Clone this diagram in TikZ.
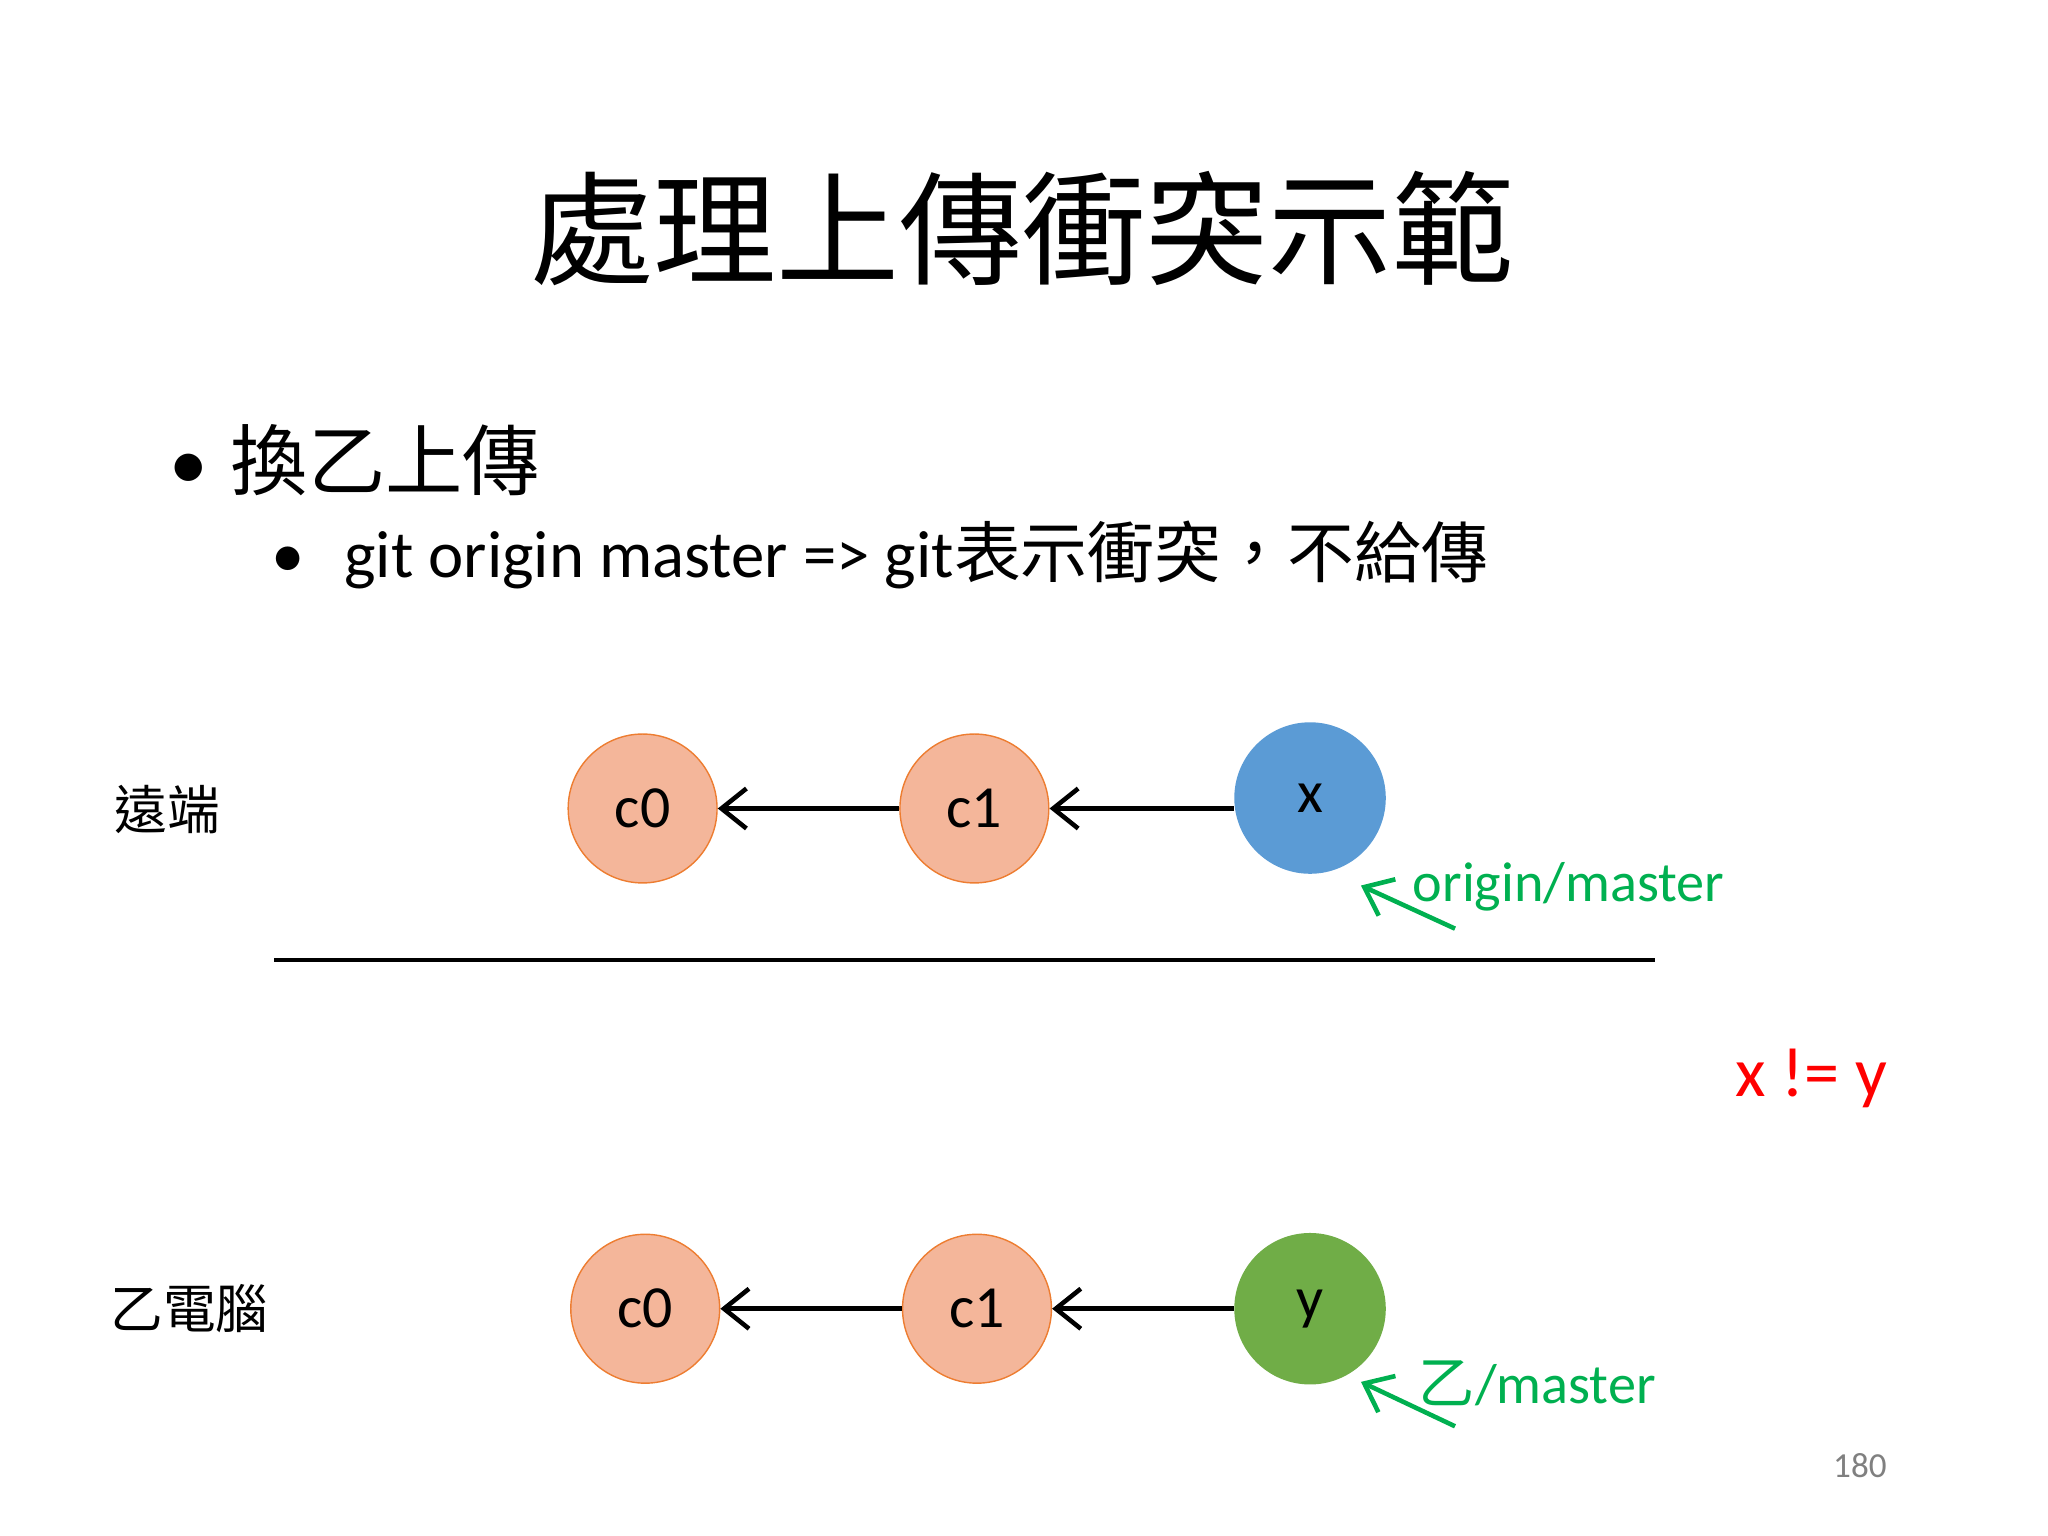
\documentclass[tikz,border=0pt]{standalone}
\usepackage{fontspec}
\setmainfont{Carlito}
\newfontfamily\cjk{Noto Sans CJK TC}
\usetikzlibrary{arrows.meta}
\definecolor{nodeorange}{HTML}{F4B69A}
\definecolor{nodeedge}{HTML}{ED7D31}
\definecolor{nodeblue}{HTML}{5B9BD5}
\definecolor{nodegreen}{HTML}{70AD47}
\definecolor{labgreen}{HTML}{00B050}
\tikzset{
  commit/.style={circle, draw=nodeedge, fill=nodeorange, minimum size=114*0.01306cm, inner sep=0pt, font=\fontsize{17}{17}\selectfont},
  head/.style={circle, minimum size=116*0.01306cm, inner sep=0pt, font=\fontsize{17}{17}\selectfont},
  parent/.style={-{Straight Barb[length=2.5mm,width=4mm]}, line width=1.3pt},
  ref/.style={-{Straight Barb[length=2.5mm,width=4mm]}, line width=1.3pt, labgreen},
}
\begin{document}
\begin{tikzpicture}[x=0.01306cm, y=-0.01306cm]
	\useasboundingbox (0,0) rectangle (1568,1176);
	\node (title) at (783,175) {\cjk\fontsize{35}{35}\selectfont 處理上傳衝突示範};
	\node[anchor=west] (item) at (120,352) {\fontsize{22}{22}\selectfont •\hspace{0.3em}{\cjk 換乙上傳}};
	\node[anchor=west] (sub) at (198,425) {\fontsize{19}{19}\selectfont •\hspace{0.6em}git origin master => git{\cjk 表示衝突，不給傳}};
	% remote
	\node (remote) at (128,620) {\cjk\fontsize{15}{15}\selectfont 遠端};
	\node[commit] (rc0) at (492,619) {c0};
	\node[commit] (rc1) at (746,619) {c1};
	\node[head, fill=nodeblue] (rx) at (1003,611) {x};
	\draw[parent] (rc1) -- (rc0);
	\draw[parent] (rx.west |- rc1) -- (rc1);
	\node[labgreen, font=\fontsize{16}{16}\selectfont] (om) at (1201,679) {origin/master};
	\coordinate (omtail) at (1114,711);
	\coordinate (omtip) at (1042,678);
	\draw[ref] (omtail) -- (omtip);
	% divider
	\coordinate (ll) at (210,735);
	\coordinate (lr) at (1267,735);
	\draw[line width=1.3pt] (ll) -- (lr);
	\node[red, font=\fontsize{20}{20}\selectfont] (neq) at (1387,826) {x != y};
	% local
	\node (local) at (145,1002) {\cjk\fontsize{15}{15}\selectfont 乙電腦};
	\node[commit] (lc0) at (494,1002) {c0};
	\node[commit] (lc1) at (748,1002) {c1};
	\node[head, fill=nodegreen] (ly) at (1003,1002) {y};
	\draw[parent] (lc1) -- (lc0);
	\draw[parent] (ly) -- (lc1);
	\node[labgreen, font=\fontsize{16}{16}\selectfont] (lm) at (1177,1059) {{\cjk 乙}/master};
	\coordinate (lmtail) at (1114,1092);
	\coordinate (lmtip) at (1042,1058);
	\draw[ref] (lmtail) -- (lmtip);
	\node[gray, font=\fontsize{10}{10}\selectfont] (page) at (1424,1122) {180};
\end{tikzpicture}
\end{document}
